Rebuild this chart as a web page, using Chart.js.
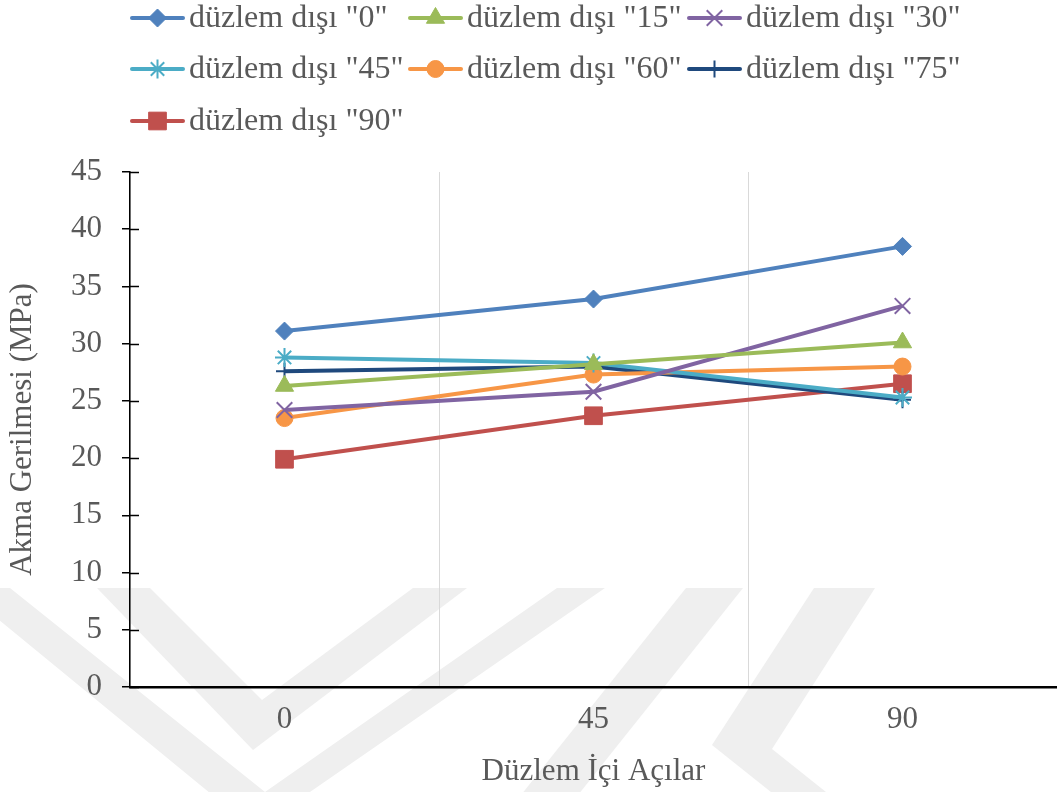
<!DOCTYPE html>
<html>
<head>
<meta charset="utf-8">
<script src="https://cdn.jsdelivr.net/npm/chart.js@4.4.1/dist/chart.umd.min.js"></script>
<style>
  html, body { margin: 0; padding: 0; background: #ffffff; }
  canvas { display: block; }
</style>
</head>
<body>
<canvas id="chart" width="1057" height="792"></canvas>
<script>
// In-plane angles (x categories)
const categories = ['0', '45', '90'];

// Yield stress (MPa) for each out-of-plane angle
const seriesNames = [
  'düzlem dışı "0"', 'düzlem dışı "15"', 'düzlem dışı "30"',
  'düzlem dışı "45"', 'düzlem dışı "60"', 'düzlem dışı "75"',
  'düzlem dışı "90"'
];
const outOfPlane0  = [31.1, 33.9, 38.5];
const outOfPlane15 = [26.3, 28.2, 30.1];
const outOfPlane30 = [24.2, 25.8, 33.3];
const outOfPlane45 = [28.8, 28.3, 25.3];
const outOfPlane60 = [23.5, 27.3, 28.0];
const outOfPlane75 = [27.6, 28.0, 25.1];
const outOfPlane90 = [19.9, 23.7, 26.5];

// Value axis ticks
const yMin = 0;
const yMax = 45;
const yStep = 5;

const FONT = "'Liberation Serif', 'Times New Roman', serif";
const TEXT = '#595959';

const seriesStyles = [
  { color: '#4F81BD', pointStyle: 'rectRot',  radius: 9,    pbw: 1 },
  { color: '#9BBB59', pointStyle: 'triangle', radius: 10.5, pbw: 1 },
  { color: '#8064A2', pointStyle: 'crossRot', radius: 11,   pbw: 2 },
  { color: '#4BACC6', pointStyle: 'star',     radius: 9.5,  pbw: 2 },
  { color: '#F79646', pointStyle: 'circle',   radius: 8.5,  pbw: 1 },
  { color: '#1F497D', pointStyle: 'cross',    radius: 8.5,  pbw: 2 },
  { color: '#C0504D', pointStyle: 'rect',     radius: 12.5, pbw: 1 }
];
const seriesValues = [outOfPlane0, outOfPlane15, outOfPlane30, outOfPlane45,
                      outOfPlane60, outOfPlane75, outOfPlane90];

const datasets = seriesValues.map((vals, i) => {
  const s = seriesStyles[i];
  return {
    label: seriesNames[i],
    data: vals,
    borderColor: s.color,
    backgroundColor: s.color,
    borderWidth: 4,
    pointStyle: s.pointStyle,
    pointRadius: s.radius,
    pointHoverRadius: s.radius,
    pointBorderWidth: s.pbw,
    pointBackgroundColor: s.color,
    pointBorderColor: s.color,
    tension: 0,
    fill: false,
    clip: false
  };
});

// Faint chevron emblem behind the plot
const backdrop = {
  id: 'backdrop',
  beforeDraw(chart) {
    const ctx = chart.ctx;
    ctx.save();
    ctx.fillStyle = '#ffffff';
    ctx.fillRect(0, 0, chart.width, chart.height);
    ctx.fillStyle = '#efefef';
    const shapes = [
      // outer chevron
      [[-40, 588], [10, 588], [265, 792], [557, 588], [605, 588], [255, 830]],
      // inner chevron
      [[97, 588], [150, 588], [262, 700], [413, 588], [467, 588], [253, 750]],
      // single diagonal stroke
      [[686, 588], [743, 588], [574, 800], [517, 800]],
      // angle bracket stroke
      [[814, 588], [875, 588], [772, 749], [836, 800], [781, 800], [712, 745]]
    ];
    shapes.forEach(poly => {
      ctx.beginPath();
      poly.forEach(([x, y], k) => (k ? ctx.lineTo(x, y) : ctx.moveTo(x, y)));
      ctx.closePath();
      ctx.fill();
    });
    ctx.restore();
  }
};

// Tick marks crossing the value axis on the plot side
const innerTicks = {
  id: 'innerTicks',
  afterDraw(chart) {
    const ctx = chart.ctx;
    const y = chart.scales.y;
    const left = chart.chartArea.left;
    ctx.save();
    ctx.strokeStyle = '#000000';
    ctx.lineWidth = 1.5;
    y.ticks.forEach(t => {
      const py = Math.round(y.getPixelForValue(t.value)) + 0.5;
      ctx.beginPath();
      ctx.moveTo(left, py);
      ctx.lineTo(left + 9, py);
      ctx.stroke();
    });
    ctx.restore();
  }
};

// Legend in three columns above the plot
const gridLegend = {
  id: 'gridLegend',
  afterDraw(chart) {
    const ctx = chart.ctx;
    const colX = [130, 408, 687];
    const rowY = [18, 69, 121];
    const lineLen = 55;
    ctx.save();
    ctx.font = '32px ' + FONT;
    ctx.textBaseline = 'middle';
    ctx.textAlign = 'left';
    chart.data.datasets.forEach((ds, i) => {
      const x = colX[i % 3];
      const y = rowY[Math.floor(i / 3)];
      ctx.strokeStyle = ds.borderColor;
      ctx.lineWidth = 4;
      ctx.lineCap = 'round';
      ctx.beginPath();
      ctx.moveTo(x + 2, y);
      ctx.lineTo(x + lineLen - 2, y);
      ctx.stroke();
      ctx.lineCap = 'butt';
      ctx.fillStyle = ds.pointBackgroundColor;
      ctx.strokeStyle = ds.pointBorderColor;
      ctx.lineWidth = ds.pointBorderWidth;
      if (Chart.helpers && Chart.helpers.drawPoint) {
        Chart.helpers.drawPoint(ctx, {
          pointStyle: ds.pointStyle,
          radius: ds.pointRadius,
          borderWidth: ds.pointBorderWidth,
          rotation: 0
        }, x + lineLen / 2, y);
      } else {
        ctx.beginPath();
        ctx.arc(x + lineLen / 2, y, ds.pointRadius, 0, Math.PI * 2);
        ctx.fill();
      }
      ctx.fillStyle = TEXT;
      ctx.fillText(ds.label, x + lineLen + 4, y + 1);
    });
    ctx.restore();
  }
};

new Chart(document.getElementById('chart'), {
  type: 'line',
  data: { labels: categories, datasets },
  plugins: [backdrop, innerTicks, gridLegend],
  options: {
    responsive: false,
    animation: false,
    devicePixelRatio: 1,
    layout: {
      autoPadding: false,
      padding: { top: 172, left: 0, right: 0, bottom: 0 }
    },
    plugins: {
      legend: { display: false },
      tooltip: { enabled: false },
      title: { display: false }
    },
    scales: {
      x: {
        type: 'category',
        offset: true,
        grid: {
          offset: true,
          color: '#d9d9d9',
          lineWidth: 1,
          drawTicks: false
        },
        border: { display: true, color: '#000000', width: 2.5 },
        ticks: {
          color: TEXT,
          font: { family: FONT, size: 31 },
          padding: 14
        },
        title: {
          display: true,
          text: 'Düzlem İçi Açılar',
          color: TEXT,
          font: { family: FONT, size: 31 },
          padding: { top: 0, bottom: 2 }
        },
        afterFit(scale) {
          scale.height = 105;
          scale.paddingLeft = 0;
          scale.paddingRight = 0;
        }
      },
      y: {
        min: yMin,
        max: yMax,
        ticks: {
          stepSize: yStep,
          color: TEXT,
          font: { family: FONT, size: 31 },
          padding: 20
        },
        grid: {
          drawOnChartArea: false,
          drawTicks: true,
          tickLength: 8,
          color: '#000000',
          lineWidth: 1.5
        },
        border: { display: true, color: '#000000', width: 1.5 },
        title: {
          display: true,
          text: 'Akma Gerilmesi (MPa)',
          color: TEXT,
          font: { family: FONT, size: 31 },
          padding: { top: 4, bottom: 0 }
        },
        afterFit(scale) { scale.width = 130; }
      }
    }
  }
});
</script>
</body>
</html>
